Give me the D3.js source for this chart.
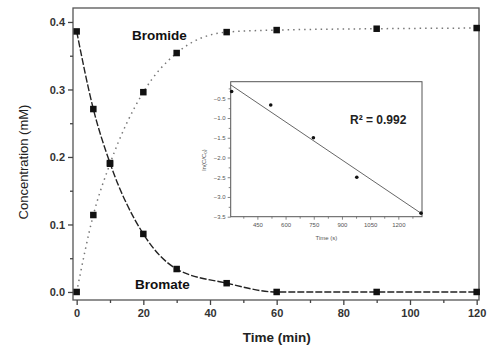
<!DOCTYPE html>
<html><head><meta charset="utf-8">
<script src="https://cdn.jsdelivr.net/npm/d3@7/dist/d3.min.js"></script>
<style>body{margin:0;background:#fff}svg{display:block}</style>
</head><body>
<script>
// Main chart data
const times = [0, 5, 10, 20, 30, 45, 60, 90, 120];
const bromate = [0.386, 0.271, 0.191, 0.086, 0.034, 0.013, 0.0, 0.0, 0.0];
const bromide = [0.0, 0.114, 0.19, 0.296, 0.354, 0.385, 0.388, 0.390, 0.391];
const xTicks = [0, 20, 40, 60, 80, 100, 120];
const yTicks = [0.0, 0.1, 0.2, 0.3, 0.4];
// Inset data: ln(C/C0) vs time (s)
const insetTime = [313, 521, 748, 979, 1321];
const insetLn = [-0.33, -0.67, -1.5, -2.5, -3.41];
const fitTime = [308, 1326];
const fitLn = [-0.16, -3.43];
const insetXTicks = [450, 600, 750, 900, 1050, 1200];
const insetYTicks = [-0.5, -1.0, -1.5, -2.0, -2.5, -3.0, -3.5];

const W = 503, H = 349;
const svg = d3.select("body").append("svg").attr("width", W).attr("height", H)
  .style("font-family", "Liberation Sans, Arial, sans-serif");

const L = 73, R = 479, T = 8, B = 300;
const x = d3.scaleLinear().domain([-1.1, 120.7]).range([L, R]);
const y = d3.scaleLinear().domain([-0.0119, 0.4207]).range([B, T]);

// frame
svg.append("rect").attr("x", L).attr("y", T).attr("width", R - L).attr("height", B - T)
  .attr("fill", "none").attr("stroke", "#555").attr("stroke-width", 1.3);

// axes
const xAxis = svg.append("g").attr("transform", `translate(0,${B})`)
  .call(d3.axisBottom(x).tickValues(xTicks).tickFormat(d3.format("d")).tickSizeOuter(0).tickSize(5).tickPadding(4));
const xMinor = svg.append("g").attr("transform", `translate(0,${B})`)
  .call(d3.axisBottom(x).tickValues(d3.range(10, 120, 20)).tickFormat("").tickSizeOuter(0).tickSize(3));
const yAxis = svg.append("g").attr("transform", `translate(${L},0)`)
  .call(d3.axisLeft(y).tickValues(yTicks).tickFormat(d3.format(".1f")).tickSizeOuter(0).tickSize(5).tickPadding(3));
const yMinor = svg.append("g").attr("transform", `translate(${L},0)`)
  .call(d3.axisLeft(y).tickValues([0.05, 0.15, 0.25, 0.35]).tickFormat("").tickSizeOuter(0).tickSize(3));
[xAxis, xMinor, yAxis, yMinor].forEach(g => {
  g.select(".domain").remove();
  g.selectAll("line").attr("stroke", "#444").attr("stroke-width", 1.3);
  g.selectAll("text").attr("fill", "#333").style("font-size", "11px").style("font-weight", "bold");
});

// lines
const line = (ys) => d3.line().x((d, i) => x(times[i])).y(d => y(d)).curve(d3.curveMonotoneX)(ys);
svg.append("path").attr("d", line(bromide)).attr("fill", "none").attr("stroke", "#777")
  .attr("stroke-width", 1.5).attr("stroke-dasharray", "1.5,4");
svg.append("path").attr("d", line(bromate)).attr("fill", "none").attr("stroke", "#222")
  .attr("stroke-width", 1.4).attr("stroke-dasharray", "7,2");

// markers
const ms = 6.5;
[bromate, bromide].forEach(s => {
  svg.append("g").selectAll("rect").data(s).join("rect")
    .attr("x", (d, i) => x(times[i]) - ms / 2).attr("y", d => y(d) - ms / 2)
    .attr("width", ms).attr("height", ms).attr("fill", "#111");
});

// series labels
svg.append("text").attr("x", 132).attr("y", 39.5).text("Bromide")
  .style("font-size", "13.5px").style("font-weight", "bold").attr("fill", "#111");
svg.append("text").attr("x", 135).attr("y", 289).text("Bromate")
  .style("font-size", "13.5px").style("font-weight", "bold").attr("fill", "#111");

// axis titles
svg.append("text").attr("transform", `translate(28,${(T + B) / 2 + 8}) rotate(-90)`)
  .attr("text-anchor", "middle").text("Concentration (mM)").style("font-size", "13px").attr("fill", "#222");
svg.append("text").attr("x", x(60)).attr("y", 342).attr("text-anchor", "middle")
  .text("Time (min)").style("font-size", "13.5px").style("font-weight", "bold").attr("fill", "#222");

// inset
const iL = 230.7, iR = 422, iT = 81.7, iB = 216.7;
const ix = d3.scaleLinear().domain([308, 1326]).range([iL, iR]);
const iy = d3.scaleLinear().domain([-3.5, -0.08]).range([iB, iT]);
svg.append("rect").attr("x", iL).attr("y", iT).attr("width", iR - iL).attr("height", iB - iT)
  .attr("fill", "#fff").attr("stroke", "#555").attr("stroke-width", 1);
const ixA = svg.append("g").attr("transform", `translate(0,${iB})`)
  .call(d3.axisBottom(ix).tickValues(insetXTicks).tickFormat(d3.format("d")).tickSizeOuter(0).tickSize(3).tickPadding(3));
const ixM = svg.append("g").attr("transform", `translate(0,${iB})`)
  .call(d3.axisBottom(ix).tickValues([375, 525, 675, 825, 975, 1125, 1275]).tickFormat("").tickSizeOuter(0).tickSize(2));
const iyA = svg.append("g").attr("transform", `translate(${iL},0)`)
  .call(d3.axisLeft(iy).tickValues(insetYTicks).tickFormat(d3.format(".1f")).tickSizeOuter(0).tickSize(3).tickPadding(2));
const iyM = svg.append("g").attr("transform", `translate(${iL},0)`)
  .call(d3.axisLeft(iy).tickValues([-0.25, -0.75, -1.25, -1.75, -2.25, -2.75, -3.25]).tickFormat("").tickSizeOuter(0).tickSize(2));
[ixA, ixM, iyA, iyM].forEach(g => {
  g.select(".domain").remove();
  g.selectAll("line").attr("stroke", "#666").attr("stroke-width", 0.8);
  g.selectAll("text").attr("fill", "#555").style("font-size", "6px");
});
svg.append("path").attr("d", d3.line().x((d, i) => ix(fitTime[i])).y(d => iy(d))(fitLn))
  .attr("fill", "none").attr("stroke", "#555").attr("stroke-width", 0.9);
svg.append("g").selectAll("circle").data(insetLn).join("circle")
  .attr("cx", (d, i) => ix(insetTime[i])).attr("cy", d => iy(d)).attr("r", 1.8).attr("fill", "#111");
svg.append("text").attr("x", (iL + iR) / 2).attr("y", 240).attr("text-anchor", "middle")
  .text("Time (s)").style("font-size", "6px").attr("fill", "#555");
svg.append("text").attr("transform", `translate(206,160) rotate(-90)`).attr("text-anchor", "middle")
  .text("ln(C/C₀)").style("font-size", "6px").attr("fill", "#555");
svg.append("text").attr("x", 350).attr("y", 124).text("R² = 0.992")
  .style("font-size", "12px").style("font-weight", "bold").attr("fill", "#222");
</script>
</body></html>
